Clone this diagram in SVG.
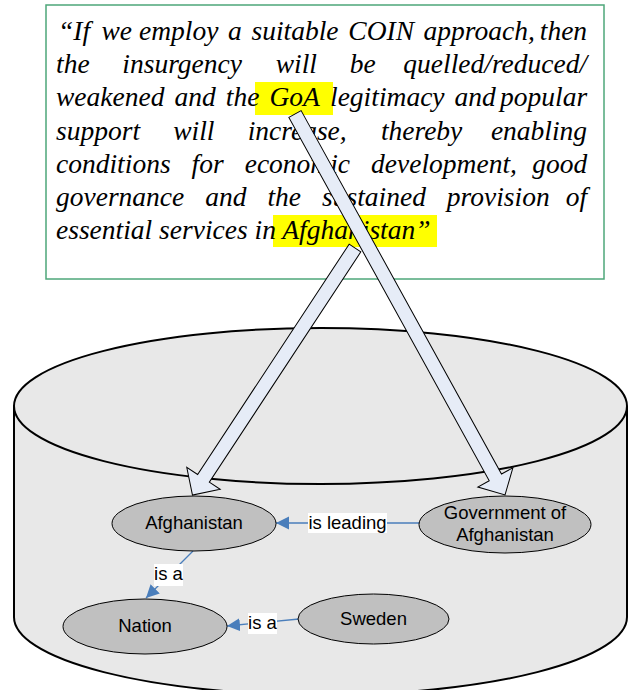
<svg xmlns="http://www.w3.org/2000/svg" width="628" height="690" viewBox="0 0 628 690">
  <style>
    .quote { font-family: "Liberation Serif", "Times New Roman", serif; font-style: italic; font-size: 27.5px; fill: #000; }
    .hl { fill: #ffff00; }
    .node ellipse { fill: #c0c0c0; stroke: #000; stroke-width: 1; }
    .node text, .lbl text { font-family: "Liberation Sans", Arial, sans-serif; font-size: 18.5px; fill: #000; text-anchor: middle; }
    .edge { stroke: #4a7ebb; stroke-width: 1.3; fill: none; marker-end: url(#tri); }
    .lbl rect { fill: #fff; }
    .block { fill: #e6ecf7; stroke: #000; stroke-width: 1; stroke-linejoin: miter; }
  </style>
  <defs>
    <marker id="tri" markerUnits="userSpaceOnUse" markerWidth="14" markerHeight="14" refX="13" refY="6.5" orient="auto">
      <path d="M0,0 L13,6.5 L0,13 Z" fill="#4a7ebb"/>
    </marker>
  </defs>

  <!-- hypothesis statement, justified word by word -->
  <g id="statement">
    <rect x="46" y="5" width="558" height="274" fill="#fff" stroke="#4ea77a" stroke-width="1.5"/>
    <rect class="hl" x="255" y="82" width="78" height="33"/>
    <rect class="hl" x="273" y="215" width="164" height="32"/>
    <text class="quote">
      <tspan x="58" y="40">“If</tspan><tspan x="101.5" y="40">we</tspan><tspan x="139" y="40">employ</tspan><tspan x="228" y="40">a</tspan><tspan x="251.5" y="40">suitable</tspan><tspan x="348.3" y="40">COIN</tspan><tspan x="423.6" y="40">approach,</tspan><tspan x="594" y="40" text-anchor="end">then</tspan>
      <tspan x="56" y="73.2">the</tspan><tspan x="122.3" y="73.2">insurgency</tspan><tspan x="275.7" y="73.2">will</tspan><tspan x="349.7" y="73.2">be</tspan><tspan x="594" y="73.2" text-anchor="end">quelled/reduced/</tspan>
      <tspan x="56" y="106.3">weakened</tspan><tspan x="174.5" y="106.3">and</tspan><tspan x="225.8" y="106.3">the</tspan><tspan x="269.5" y="106.3">GoA</tspan><tspan x="330" y="106.3">legitimacy</tspan><tspan x="454.6" y="106.3">and</tspan><tspan x="594" y="106.3" text-anchor="end">popular</tspan>
      <tspan x="56" y="139.5">support</tspan><tspan x="173.2" y="139.5">will</tspan><tspan x="247.7" y="139.5">increase,</tspan><tspan x="380.9" y="139.5">thereby</tspan><tspan x="594" y="139.5" text-anchor="end">enabling</tspan>
      <tspan x="56" y="172.6">conditions</tspan><tspan x="191.6" y="172.6">for</tspan><tspan x="244.7" y="172.6">economic</tspan><tspan x="371.1" y="172.6">development,</tspan><tspan x="594" y="172.6" text-anchor="end">good</tspan>
      <tspan x="56" y="205.8">governance</tspan><tspan x="205.2" y="205.8">and</tspan><tspan x="267.4" y="205.8">the</tspan><tspan x="322" y="205.8">sustained</tspan><tspan x="446.8" y="205.8">provision</tspan><tspan x="594" y="205.8" text-anchor="end">of</tspan>
      <tspan x="56" y="239">essential services in Afghanistan”</tspan>
    </text>
  </g>

  <!-- knowledge base cylinder -->
  <g id="knowledge-base">
    <path d="M14,406 A306.5,78 0 0 1 627,406 L627,617 A306.5,78 0 0 1 14,617 Z" fill="#e8e8e8" stroke="#000" stroke-width="2"/>
    <path d="M14,406 A306.5,78 0 0 0 627,406" fill="none" stroke="#000" stroke-width="2"/>
  </g>

  <!-- relations -->
  <g id="connectors">
    <line class="edge" x1="419" y1="523" x2="276" y2="523"/>
    <line class="edge" x1="193" y1="551" x2="146" y2="598"/>
    <line class="edge" x1="299" y1="619" x2="227" y2="626"/>
    <g class="lbl">
      <rect x="308" y="513" width="79" height="20"/>
      <text x="347.5" y="529">is leading</text>
      <rect x="154" y="564" width="29" height="22"/>
      <text x="168.5" y="580">is a</text>
      <rect x="248" y="613" width="29" height="21"/>
      <text x="262.5" y="629">is a</text>
    </g>
  </g>

  <g id="node-afghanistan" class="node">
    <ellipse cx="194" cy="523.5" rx="82" ry="27.5"/>
    <text x="194" y="529">Afghanistan</text>
  </g>
  <g id="node-government" class="node">
    <ellipse cx="505" cy="524.5" rx="86" ry="28.5"/>
    <text x="505" y="519">Government of</text>
    <text x="505" y="541">Afghanistan</text>
  </g>
  <g id="node-nation" class="node">
    <ellipse cx="145" cy="626.5" rx="82" ry="27.5"/>
    <text x="145" y="632">Nation</text>
  </g>
  <g id="node-sweden" class="node">
    <ellipse cx="373.5" cy="619" rx="75.5" ry="25"/>
    <text x="373.5" y="625">Sweden</text>
  </g>

  <!-- block arrows from statement terms to concepts -->
  <g id="term-links">
    <polygon class="block" transform="translate(355,248) rotate(123.34)" points="0,-7 275.7,-7 275.7,-20 295.7,0 275.7,20 275.7,7 0,7"/>
    <polygon class="block" transform="translate(295,114) rotate(61.13)" points="0,-7 415,-7 415,-20 435,0 415,20 415,7 0,7"/>
  </g>
</svg>
